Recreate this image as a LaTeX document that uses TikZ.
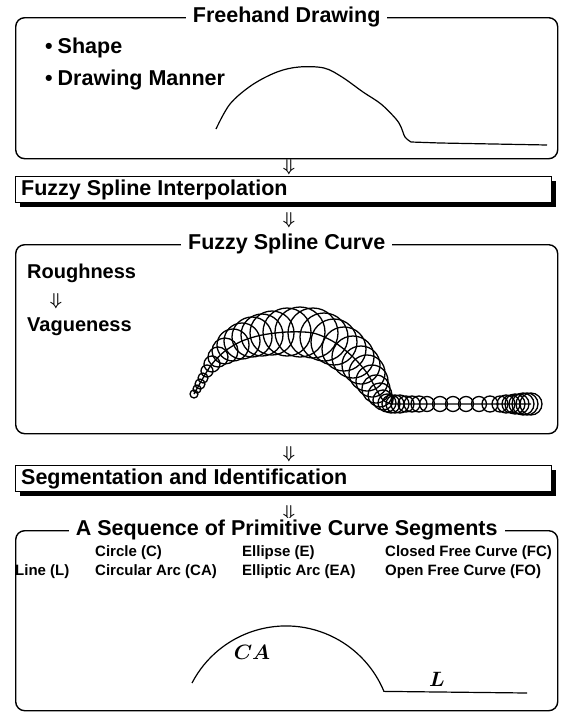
\documentclass[tikz,border=0pt]{standalone}
\usepackage{fontspec}
\setmainfont{Liberation Sans}
\usetikzlibrary{shadows}
\begin{document}
\begin{tikzpicture}[x=1pt,y=-1pt,
  big/.style={font=\fontsize{21.5}{24}\selectfont\bfseries, inner sep=0pt},
  mid/.style={font=\fontsize{20}{22}\selectfont\bfseries, inner sep=0pt, anchor=west},
  small/.style={font=\fontsize{15}{17}\selectfont\bfseries, inner sep=0pt, anchor=west},
  frame/.style={draw, line width=1.4pt, rounded corners=9pt, minimum width=542pt, anchor=north west, inner sep=0pt},
  ttl/.style={big, fill=white, inner xsep=7pt, inner ysep=2pt},
  arr/.style={font=\fontsize{16}{16}\selectfont\boldmath, inner sep=0pt},
  procbox/.style={draw, fill=white, line width=1.2pt, minimum width=536pt, minimum height=26pt, anchor=north west, inner sep=0pt,
    drop shadow={shadow xshift=4pt, shadow yshift=-4pt, fill=black, opacity=1}},
  fz/.style={line width=1.3pt},
  crv/.style={line width=1.2pt},
  lbl/.style={font=\fontsize{20}{21}\selectfont\boldmath, inner sep=0pt}
]
\useasboundingbox (0,0) rectangle (564,715);

% ---------- Box 1: Freehand drawing
\node[frame, minimum height=141pt] (b1) at (15,17) {};
\node[ttl] (t1) at (b1.north) {Freehand Drawing};
\node[big, anchor=west] (s1) at (45,48) {\textbullet\hspace{5pt}Shape};
\node[big, anchor=west] (s2) at (45,80) {\textbullet\hspace{5pt}Drawing Manner};
\draw[crv] plot[smooth, tension=0.55] coordinates {(216,129) (230,104) (252,85) (277,72) (299,67) (324,68) (342,77) (363,92) (381,104) (396,119) (401,127) (405,137) (411,142)} -- (440,143) -- (547,145);

\node[arr] (a1) at (289,167) {$\Downarrow$};

% ---------- Box 2
\node[procbox] (p1) at (15,176) {};
\node[big, anchor=west] (p1t) at ([xshift=6pt]p1.west) {Fuzzy Spline Interpolation};

\node[arr] (a2) at (289,220) {$\Downarrow$};

% ---------- Box 3: Fuzzy spline curve
\node[frame, minimum height=189pt] (b3) at (15,244) {};
\node[ttl] (t3) at (b3.north) {Fuzzy Spline Curve};
\node[mid] (rg) at (27,273) {Roughness};
\node[arr] (a3) at (56,301) {$\Downarrow$};
\node[mid] (vg) at (27,327) {Vagueness};

\foreach \cx/\cy/\r in {194/394/4, 197/389/4, 200/384/5, 203/378/5, 207/371/6, 212/364/8, 218/357/10, 225/351/13,
  233/345/16, 242/341/18, 252/337/20, 262/335/21, 272/333/22, 287/332/24, 300/332/25, 313/333/25, 324/337/24,
  334/342/23, 344/349/22, 353/357/21, 361/365/19, 367/373/18, 372/381/16, 376/389/14, 380/395/12, 383/400/10,
  387/403/9, 391/404/9, 395/404/9, 400/404/9, 406/404/8, 412/404/8, 419/404/8, 427/404/7.5, 440/404/7.5,
  453/404/7.5, 466/404/7.5, 479/404/7.5, 490/404/8, 500/404/8, 506/404/9, 511/404/9, 515/404/10, 519/404/10,
  523/404/11, 527/404/11, 531/404/11}
  \draw[fz] (\cx,\cy) circle[radius=\r pt];
\draw[fz] plot[smooth, tension=0.5] coordinates {(194,394) (203,378) (212,364) (225,351) (242,341) (262,335) (287,332) (313,333) (334,342) (353,357) (367,373) (376,389) (383,400) (391,404)} -- (531,404);

\node[arr] (a4) at (289,454) {$\Downarrow$};

% ---------- Box 4
\node[procbox] (p2) at (15,465) {};
\node[big, anchor=west] (p2t) at ([xshift=6pt]p2.west) {Segmentation and Identification};

\node[arr] (a5) at (289,513) {$\Downarrow$};

% ---------- Box 5: primitive segments
\node[frame, minimum height=180pt] (b5) at (15,530) {};
\node[ttl] (t5) at (b5.north) {A Sequence of Primitive Curve Segments};
\node[small] (c1) at (95,553) {Circle (C)};
\node[small] (c2) at (95,572) {Circular Arc (CA)};
\node[small] (l1) at (15,572) {Line (L)};
\node[small] (e1) at (242,553) {Ellipse (E)};
\node[small] (e2) at (242,572) {Elliptic Arc (EA)};
\node[small] (f1) at (385,553) {Closed Free Curve (FC)};
\node[small] (f2) at (385,572) {Open Free Curve (FO)};

\coordinate (cas) at (192,683);
\draw[crv] (cas) arc[start angle=152.5, end angle=22.5, radius=106pt] coordinate (cae) -- (527,693);
\node[lbl] (cal) at (252,652) {$CA$};
\node[lbl] (ll) at (437,679) {$L$};
\end{tikzpicture}
\end{document}
